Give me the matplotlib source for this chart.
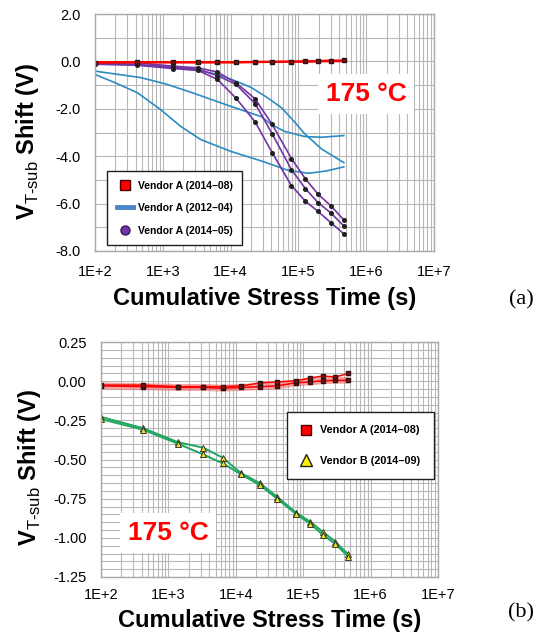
import matplotlib
matplotlib.use("Agg")
import matplotlib.pyplot as plt
from matplotlib.lines import Line2D
from matplotlib.ticker import FixedLocator, LogLocator, MultipleLocator, NullFormatter

plt.rcParams['font.family'] = ['Liberation Sans', 'DejaVu Sans']
plt.rcParams['mathtext.fontset'] = 'custom'
plt.rcParams['mathtext.rm'] = 'Liberation Sans'
plt.rcParams['mathtext.bf'] = 'Liberation Sans:bold'

# ---------- data ----------
# measured stress times (s), shared by the marker series
stress_time = [100, 420, 1400, 3300, 6400, 12000, 23000, 41000,
               79000, 127000, 195000, 300000, 465000]

# (a) Vendor A (2014-08)
a_red_1 = [-0.05, -0.04, -0.04, -0.04, -0.04, -0.04, -0.03, -0.02,
           -0.01, 0.00, 0.02, 0.03, 0.04]
a_red_2 = [-0.03, -0.03, -0.03, -0.03, -0.03, -0.03, -0.02, -0.02,
           -0.01, -0.01, 0.00, 0.01, 0.01]

# (a) Vendor A (2014-05)
a_purple_1 = [-0.05, -0.06, -0.20, -0.27, -0.45, -0.90, -1.58, -2.66,
              -4.10, -4.96, -5.60, -6.09, -6.68]
a_purple_2 = [-0.10, -0.13, -0.25, -0.33, -0.60, -0.97, -1.78, -3.05,
              -4.57, -5.37, -5.96, -6.39, -6.94]
a_purple_3 = [-0.12, -0.16, -0.30, -0.38, -0.76, -1.55, -2.55, -3.85,
              -5.24, -5.90, -6.33, -6.80, -7.27]

# (a) Vendor A (2012-04), continuous traces
blue_1_time = [100, 198, 421, 925, 1832, 3634, 10140, 28300,
               71300, 141400, 261600, 467700]
blue_1 = [-0.55, -0.90, -1.32, -2.03, -2.74, -3.30, -3.80, -4.20,
          -4.60, -4.72, -4.62, -4.45]
blue_2_time = [100, 467, 1097, 2582, 5117, 10140, 28300, 39850,
               62100, 123300, 220400, 467700]
blue_2 = [-0.41, -0.68, -0.95, -1.30, -1.60, -1.90, -2.33, -2.66,
          -2.95, -3.17, -3.20, -3.13]
blue_3_time = [100, 421, 1443, 3634, 6500, 12450, 20100, 33600,
               56100, 87500, 123300, 220400, 467700]
blue_3 = [-0.10, -0.15, -0.25, -0.40, -0.55, -0.85, -1.10, -1.50,
          -1.95, -2.55, -3.05, -3.70, -4.27]

# (b) Vendor A (2014-08)
b_red_1 = [-0.025, -0.025, -0.035, -0.035, -0.035, -0.030, -0.011, -0.005,
           0.003, 0.020, 0.033, 0.027, 0.049]
b_red_2 = [-0.030, -0.035, -0.040, -0.040, -0.045, -0.040, -0.035, -0.030,
           -0.010, -0.005, 0.003, 0.005, 0.006]

# (b) Vendor B (2014-09)
b_green_1 = [-0.228, -0.300, -0.390, -0.425, -0.489, -0.587, -0.652, -0.738,
             -0.840, -0.897, -0.961, -1.025, -1.105]
b_green_2 = [-0.242, -0.310, -0.400, -0.468, -0.525, -0.595, -0.665, -0.750,
             -0.850, -0.910, -0.980, -1.040, -1.120]

x_ticks = [1e2, 1e3, 1e4, 1e5, 1e6, 1e7]
x_tick_labels = ["1E+2", "1E+3", "1E+4", "1E+5", "1E+6", "1E+7"]
a_y_ticks = [2.0, 0.0, -2.0, -4.0, -6.0, -8.0]
a_y_tick_labels = ["2.0", "0.0", "-2.0", "-4.0", "-6.0", "-8.0"]
b_y_ticks = [0.25, 0.0, -0.25, -0.5, -0.75, -1.0, -1.25]
b_y_tick_labels = ["0.25", "0.00", "-0.25", "-0.50", "-0.75", "-1.00", "-1.25"]

a_legend = ["Vendor A (2014\u201308)", "Vendor A (2012\u201304)", "Vendor A (2014\u201305)"]
b_legend = ["Vendor A (2014\u201308)", "Vendor B (2014\u201309)"]

RED = "#ff0000"
BLUE = "#2b8cc4"
PURPLE = "#7434a4"
GREEN = "#22a562"
GRID = "#b8b8b8"

W, H = 542, 632
fig = plt.figure(figsize=(W / 100, H / 100), dpi=100)


def px_axes(left, top, right, bottom):
    return fig.add_axes([left / W, 1 - bottom / H, (right - left) / W, (bottom - top) / H])


def style_axes(ax, yticks, ylabels, yminor, ylim, ypad):
    ax.set_xscale("log")
    ax.set_xlim(1e2, 1e7)
    ax.set_ylim(*ylim)
    ax.xaxis.set_major_locator(FixedLocator(x_ticks))
    ax.set_xticklabels(x_tick_labels)
    ax.xaxis.set_minor_locator(LogLocator(base=10, subs=range(2, 10)))
    ax.xaxis.set_minor_formatter(NullFormatter())
    ax.set_yticks(yticks)
    ax.set_yticklabels(ylabels)
    ax.yaxis.set_minor_locator(MultipleLocator(yminor))
    ax.grid(which="both", color=GRID, lw=0.8)
    ax.set_axisbelow(True)
    ax.tick_params(which="both", length=0, labelsize=10.5)
    ax.tick_params(axis="y", pad=10.5)
    ax.tick_params(axis="x", pad=ypad)
    for s in ax.spines.values():
        s.set_color("#a8a8a8")
        s.set_linewidth(1.0)


ylab = r"$\mathbf{V}_{\mathrm{T\text{-}sub}}$" + " Shift (V)"

# ---------- (a) ----------
ax = px_axes(95, 14, 434, 251)
style_axes(ax, a_y_ticks, a_y_tick_labels, 1.0, (-8, 2), 10)

for t, v in [(blue_1_time, blue_1), (blue_2_time, blue_2), (blue_3_time, blue_3)]:
    ax.plot(t, v, color=BLUE, lw=1.2, solid_joinstyle="round")
for v in [a_purple_1, a_purple_2, a_purple_3]:
    ax.plot(stress_time, v, color=PURPLE, lw=1.2, marker="o", ms=2.6,
            mfc="#202020", mec="#202020", solid_joinstyle="round")
ax.plot(stress_time, a_red_2, color=RED, lw=1.6)
ax.plot(stress_time, a_red_1, color=RED, lw=1.6, marker="s", ms=3.2,
        mfc="#7a1010", mec="#301010")

ax.text(366, 97, "175 \u00b0C", transform=None, fontsize=19, fontweight="bold",
        color=RED, ha="center", va="center",
        bbox=dict(facecolor="white", edgecolor="none", boxstyle="square,pad=0.3"))
# transform=None above uses display pixels from bottom; fix below
ax.texts[-1].set_transform(fig.transFigure)
ax.texts[-1].set_position((366 / W, 1 - 94 / H))

handles_a = [
    Line2D([], [], ls="none", marker="s", ms=7.5, mfc=RED, mec="#500000"),
    Line2D([], [], color="#4a86c8", lw=3.5),
    Line2D([], [], ls="none", marker="o", ms=6.5, mfc=PURPLE, mec="#3a1a55"),
]
leg = ax.legend(handles_a, a_legend, loc="upper left",
                bbox_to_anchor=((102 - 95) / 339, (251 - 166) / 237),
                prop=dict(size=7.5, weight="bold"), frameon=True, fancybox=False,
                framealpha=1, edgecolor="#202020", borderpad=0.9,
                labelspacing=1.2, handlelength=1.6, handletextpad=0.45)
leg.get_frame().set_linewidth(1.0)

fig.text(265 / W, 1 - 298 / H, "Cumulative Stress Time (s)", fontsize=17,
         fontweight="bold", ha="center", va="center")
fig.text(28 / W, 1 - 142 / H, ylab, fontsize=17, fontweight="bold",
         rotation=90, ha="center", va="center")
fig.text(521 / W, 1 - 300 / H, "(a)", fontsize=16,
         family=["Liberation Serif", "DejaVu Serif"], ha="center", va="center")

# ---------- (b) ----------
bx = px_axes(101, 342, 438, 577)
style_axes(bx, b_y_ticks, b_y_tick_labels, 0.05, (-1.25, 0.25), 8)

bx.plot(stress_time, b_red_2, color="#f06a6a", lw=5, alpha=0.6, solid_capstyle="butt")
bx.plot(stress_time, b_red_2, color=RED, lw=1.1, marker="s", ms=3.2,
        mfc="#7a1010", mec="#301010")
bx.plot(stress_time, b_red_1, color=RED, lw=1.1, marker="s", ms=3.2,
        mfc="#7a1010", mec="#301010")
for v in [b_green_1, b_green_2]:
    bx.plot(stress_time, v, color=GREEN, lw=1.4, marker="^", ms=4,
            mfc="#f2e020", mec="#202020", mew=0.6, solid_joinstyle="round")

bx.text(168 / W, 1 - 533 / H, "175 \u00b0C", transform=fig.transFigure,
        fontsize=19, fontweight="bold", color=RED, ha="center", va="center",
        bbox=dict(facecolor="white", edgecolor="none", boxstyle="square,pad=0.3"))

handles_b = [
    Line2D([], [], ls="none", marker="s", ms=7.5, mfc=RED, mec="#500000"),
    Line2D([], [], ls="none", marker="^", ms=9, mfc="#ffee00", mec="#202020"),
]
leg = bx.legend(handles_b, b_legend, loc="upper left",
                bbox_to_anchor=((282 - 101) / 337, (577 - 407) / 235),
                prop=dict(size=7.8, weight="bold"), frameon=True, fancybox=False,
                framealpha=1, edgecolor="#202020", borderpad=1.2,
                labelspacing=1.9, handlelength=1.0, handletextpad=0.85)
leg.get_frame().set_linewidth(1.0)

fig.text(270 / W, 1 - 620 / H, "Cumulative Stress Time (s)", fontsize=17,
         fontweight="bold", ha="center", va="center")
fig.text(30 / W, 1 - 468 / H, ylab, fontsize=17, fontweight="bold",
         rotation=90, ha="center", va="center")
fig.text(521 / W, 1 - 613 / H, "(b)", fontsize=16,
         family=["Liberation Serif", "DejaVu Serif"], ha="center", va="center")

fig.savefig("out.png", dpi=100, facecolor="white")
